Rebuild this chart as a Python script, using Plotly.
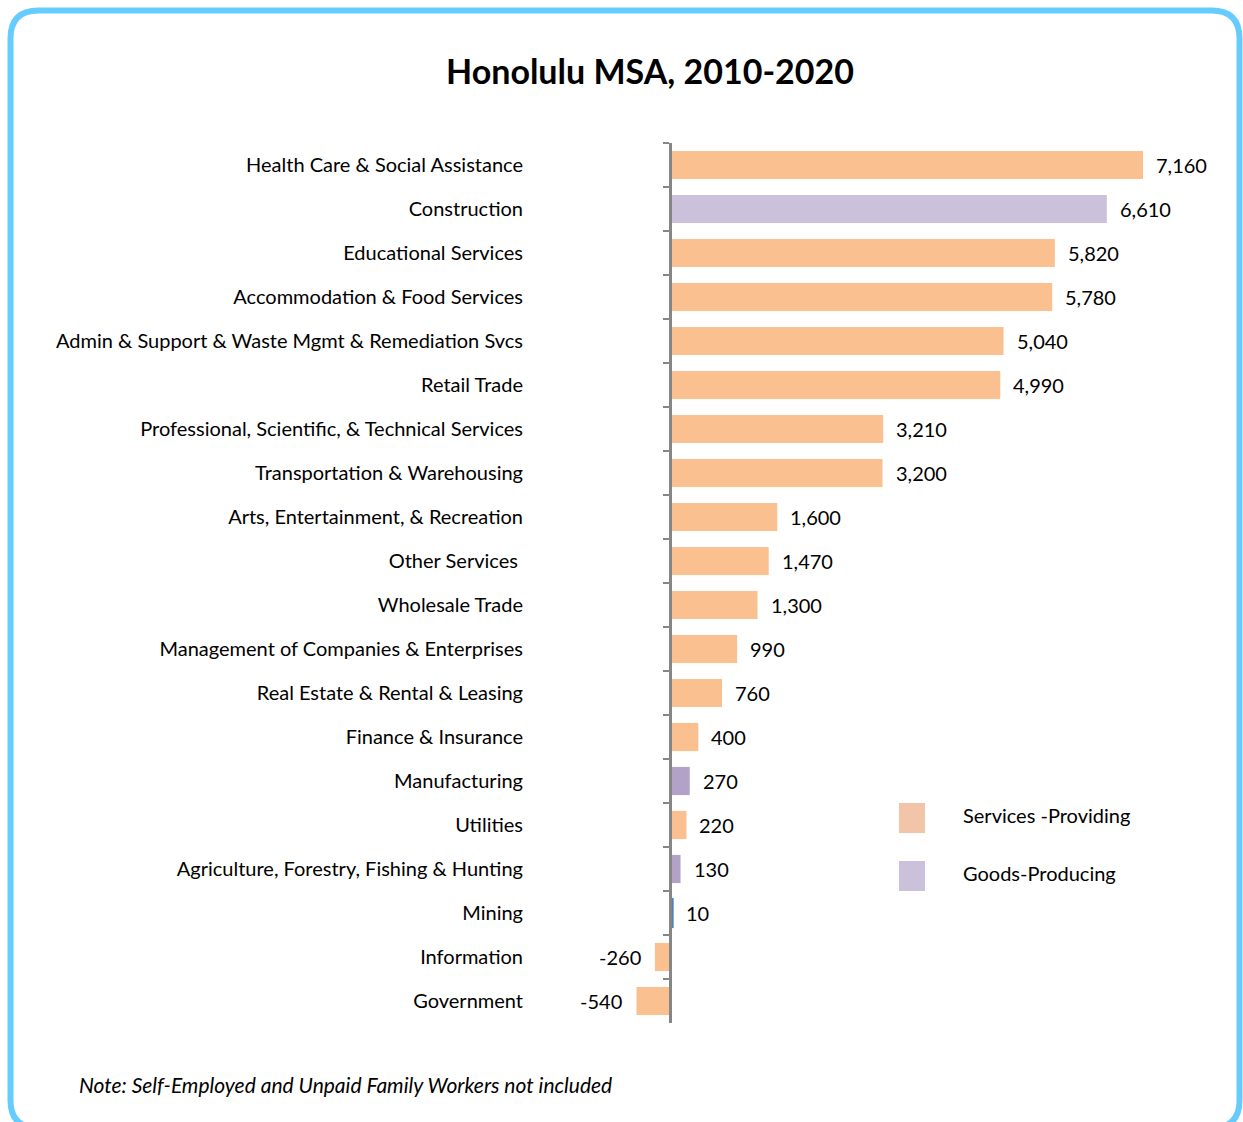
import plotly.graph_objects as go

categories = [
    "Health Care & Social Assistance", "Construction", "Educational Services",
    "Accommodation & Food Services", "Admin & Support & Waste Mgmt & Remediation Svcs",
    "Retail Trade", "Professional, Scientific, & Technical Services",
    "Transportation & Warehousing", "Arts, Entertainment, & Recreation",
    "Other Services\u00a0", "Wholesale Trade", "Management of Companies & Enterprises",
    "Real Estate & Rental & Leasing", "Finance & Insurance", "Manufacturing",
    "Utilities", "Agriculture, Forestry, Fishing & Hunting", "Mining",
    "Information", "Government",
]
values = [7160, 6610, 5820, 5780, 5040, 4990, 3210, 3200, 1600, 1470, 1300,
          990, 760, 400, 270, 220, 130, 10, -260, -540]
sector = ["S", "G", "S", "S", "S", "S", "S", "S", "S", "S", "S", "S", "S", "S",
          "G2", "S", "G2", "M", "S", "S"]
color_map = {"S": "#FAC090", "G": "#CCC1DA", "G2": "#B3A2C7", "M": "#4F81BD"}
legend_labels = ["Services -Providing", "Goods-Producing"]
legend_colors = ["#F2C4A8", "#CCC1DA"]

W, H = 1243, 1122
OFF = 0  # page body margin removed via post_script

# layout targets in screen pixels
PLOT_L, PLOT_R, PLOT_T, PLOT_B = 560, 1200, 143, 1023
ZERO_S, AXIS_S = 672, 670
SCALE = (1143 - 672) / 7160.0

L = PLOT_L - OFF
R = W - (PLOT_R - OFF)
T = PLOT_T - OFF
B = H - (PLOT_B - OFF)
PW, PH = W - L - R, H - T - B
X_MIN = -(ZERO_S - PLOT_L) / SCALE
X_MAX = (PLOT_R - ZERO_S) / SCALE
axis_pos = (AXIS_S - PLOT_L) / PW


def px(xs):
    return (xs - PLOT_L) / PW


def py(ys):
    return (PLOT_B - ys) / PH


FONT = "Lato"
colors = [color_map[s] for s in sector]
line_colors = [c if s == "M" else "rgba(0,0,0,0)" for c, s in zip(colors, sector)]
line_widths = [2 if s == "M" else 0 for s in sector]

fig = go.Figure()
fig.add_trace(go.Bar(
    y=categories, x=values, orientation="h",
    marker=dict(color=colors, line=dict(color=line_colors, width=line_widths)),
    width=0.64, showlegend=False, hoverinfo="x+y",
))

annotations = []
for c, v in zip(categories, values):
    annotations.append(dict(
        x=v, y=c, xref="x", yref="y", text=f"{v:,}", showarrow=False,
        xanchor="left" if v >= 0 else "right", xshift=11 if v >= 0 else -12,
        font=dict(family=FONT, size=20, color="#000000"),
    ))

annotations.append(dict(
    x=px(77), y=py(1084), xref="paper", yref="paper", xanchor="left", yanchor="middle",
    text="<i>Note: Self-Employed and Unpaid Family Workers not included</i>", showarrow=False,
    font=dict(family=FONT, size=21, color="#000000"),
))

shapes = []
leg_y = [818, 876]
for lab, col, yy in zip(legend_labels, legend_colors, leg_y):
    shapes.append(dict(type="rect", xref="paper", yref="paper",
                       x0=px(899), x1=px(925), y0=py(yy - 15), y1=py(yy + 15),
                       fillcolor=col, line=dict(width=0)))
    annotations.append(dict(x=px(961), y=py(yy - 3), xref="paper", yref="paper",
                            xanchor="left", yanchor="middle", text=lab, showarrow=False,
                            font=dict(family=FONT, size=20, color="#000000")))

# rounded border (screen coords)
x0b, x1b, y0b, y1b, r = 10.5, 1239.5, 10.5, 1128, 28
path = (f"M {px(x0b+r)},{py(y0b)} L {px(x1b-r)},{py(y0b)} "
        f"Q {px(x1b)},{py(y0b)} {px(x1b)},{py(y0b+r)} "
        f"L {px(x1b)},{py(y1b-r)} Q {px(x1b)},{py(y1b)} {px(x1b-r)},{py(y1b)} "
        f"L {px(x0b+r)},{py(y1b)} Q {px(x0b)},{py(y1b)} {px(x0b)},{py(y1b-r)} "
        f"L {px(x0b)},{py(y0b+r)} Q {px(x0b)},{py(y0b)} {px(x0b+r)},{py(y0b)} Z")
shapes.append(dict(type="path", xref="paper", yref="paper", path=path,
                   line=dict(color="#66CCFF", width=6), fillcolor="rgba(0,0,0,0)"))

fig.update_layout(
    width=W, height=H,
    margin=dict(l=L, r=R, t=T, b=B, autoexpand=False),
    paper_bgcolor="white", plot_bgcolor="white",
    title=dict(text="<b>Honolulu MSA, 2010-2020</b>", x=(650 - OFF) / W, xanchor="center",
               y=1 - (72 - OFF) / H, yanchor="middle",
               font=dict(family=FONT, size=34, color="#000000")),
    xaxis=dict(range=[X_MIN, X_MAX], visible=False, fixedrange=True),
    yaxis=dict(
        type="category", autorange="reversed", anchor="free", position=axis_pos,
        showline=True, linecolor="#868686", linewidth=3,
        ticks="outside", ticklen=6, tickwidth=2, tickcolor="#868686",
        tickson="boundaries", showgrid=False, zeroline=False,
        ticklabelstandoff=142,
        tickfont=dict(family=FONT, size=20, color="#000000"),
    ),
    shapes=shapes, annotations=annotations,
    font=dict(family=FONT),
)

fig.write_html(
    "out.html",
    config={"displayModeBar": False},
    post_script="document.body.style.margin='0px';document.body.style.overflow='hidden';",
)
